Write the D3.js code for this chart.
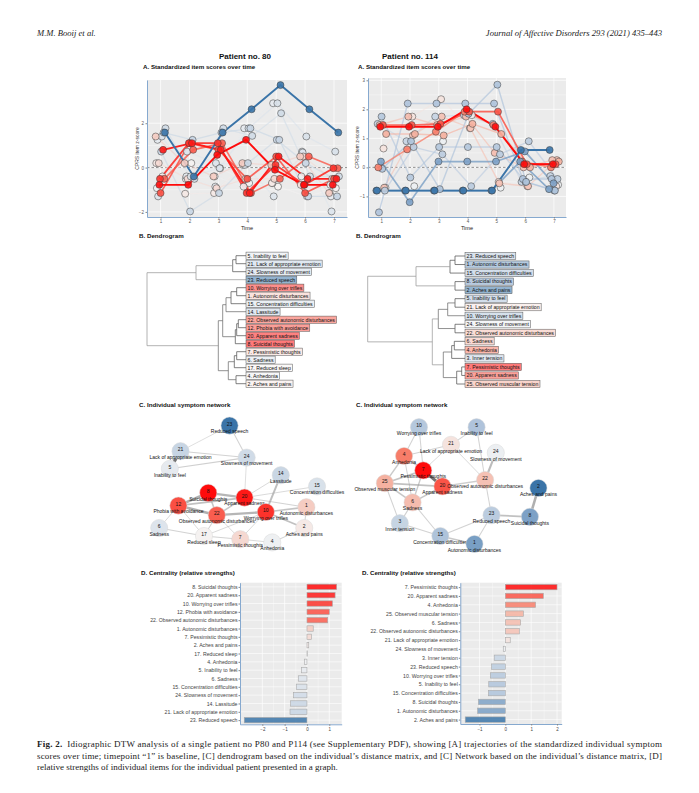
<!DOCTYPE html>
<html>
<head>
<meta charset="utf-8">
<script src="https://cdn.jsdelivr.net/npm/d3@7"></script>
<style>
  body { margin: 0; background: #fff; }
  svg { display: block; }
  text { font-family: "Liberation Sans", Arial, sans-serif; }
  .serif { font-family: "Liberation Serif", "Times New Roman", serif; }
</style>
</head>
<body>
<script>
// item names (CPRS)
var itemIds = [1, 2, 3, 4, 5, 6, 7, 8, 10, 12, 14, 15, 17, 20, 21, 22, 23, 24, 25];
var itemNames = ['Autonomic disturbances', 'Aches and pains', 'Inner tension', 'Anhedonia',
  'Inability to feel', 'Sadness', 'Pessimistic thoughts', 'Suicidal thoughts',
  'Worrying over trifles', 'Phobia with avoidance', 'Lassitude', 'Concentration difficulties',
  'Reduced sleep', 'Apparent sadness', 'Lack of appropriate emotion',
  'Observed autonomic disturbances', 'Reduced speech', 'Slowness of movement',
  'Observed muscular tension'];
var timepoints = [1, 2, 3, 4, 5, 6, 7];

// patient 80
var p80Items = [8, 20, 10, 12, 22, 1, 7, 2, 17, 4, 5, 6, 15, 24, 14, 21, 23];
var p80Strength = [1.33, 1.26, 1.14, 1.0, 0.93, 0.28, 0.2, 0.08, 0.02, -0.12, -0.25, -0.39, -0.48, -0.61, -0.73, -0.76, -2.81];
var p80Scores = [
  [-0.78, -0.78, 0.57, 1.25, -0.1, -0.78, -0.78],
  [0.8, 1.1, 0.8, -1.15, 0.5, -0.51, -0.51],
  [-0.51, 1.1, 1.1, -1.15, 0.12, -0.78, -0.03],
  [-1.15, 1.1, 0.8, -0.51, 0.5, -1.15, -0.51],
  [-0.51, 0.8, 1.1, -1.15, -0.51, 0.5, -0.03],
  [1.4, 0.2, -0.4, 0.2, 0.12, 0.5, -1.15],
  [0.2, -0.51, -0.93, -0.51, -0.51, 0.5, -0.51],
  [0.2, -1.18, -1.15, 0.12, -0.7, -0.78, -1.15],
  [-0.4, 0.2, -0.03, -0.7, -0.86, -1.3, -0.93],
  [-0.93, -0.51, -0.4, -0.86, -0.7, -0.4, -0.78],
  [1.25, -0.4, -0.86, 1.77, 2.9, 0.72, -1.3],
  [-1.3, 0.72, 0.2, 0.12, -1.3, 0.68, -1.98],
  [1.4, -0.4, -0.03, 1.77, 2.9, 1.4, 0.72],
  [1.77, -0.51, 1.77, 1.43, 2.45, -0.4, -0.4],
  [0.72, -1.98, -1.15, 0.2, 1.25, 0.2, -0.51],
  [1.58, 1.25, 1.58, 1.77, 1.25, -1.3, -1.3],
  [1.58, -0.4, 1.58, 2.63, 3.72, 2.63, 1.58]
];
// hclust style merge matrix: negative = item, positive = earlier merge row, then height
var p80Merge = [
  [-5, -21, 10], [1, -24, 13.3], [2, -23, 50], [-10, -1, 9.3], [4, -15, 15], [5, -14, 20],
  [-22, -12, 7.7], [7, -20, 9.3], [8, -8, 10.7], [6, 9, 23.3], [-7, -6, 9.3], [11, -17, 11.7],
  [-4, -2, 10], [12, 13, 17.7], [10, 14, 27.7], [3, 15, 99]
];
var p80LayoutX = [0.32, 0.49, 0.59, 0.18, 0.36, 0.78, 0.47, 0.77, 0.30, 0.62, 0.14, 0.09, 0.83, 0.50, 0.66, 0.19, 0.42];
var p80LayoutY = [0.42, 0.39, 0.30, 0.34, 0.28, 0.33, 0.13, 0.20, 0.15, 0.11, 0.57, 0.20, 0.46, 0.64, 0.53, 0.68, 0.84];
var p80Edges = [
  [21, 5, 1.0], [8, 12, 0.8], [8, 20, 0.7], [12, 22, 0.8], [12, 20, 0.5], [22, 10, 0.7],
  [20, 22, 0.4], [8, 22, 0.4], [14, 10, 0.55], [10, 1, 0.45], [10, 2, 0.5], [23, 24, 0.2],
  [23, 21, 0.12], [21, 24, 0.2], [5, 24, 0.25], [24, 20, 0.12], [20, 15, 0.15], [20, 1, 0.2],
  [6, 17, 0.2], [17, 7, 0.2], [7, 4, 0.15], [2, 4, 0.2], [17, 10, 0.15], [7, 10, 0.15],
  [17, 22, 0.2], [12, 17, 0.15], [6, 12, 0.15], [7, 22, 0.15], [2, 1, 0.2], [14, 20, 0.15]
];

// patient 114
var p114Items = [7, 20, 4, 25, 6, 22, 21, 24, 3, 23, 10, 5, 15, 8, 1, 2];
var p114Strength = [2.0, 1.47, 1.17, 0.7, 0.59, 0.54, 0.19, -0.08, -0.43, -0.53, -0.58, -0.64, -0.65, -1.04, -1.07, -1.55];
var p114Scores = [
  [1.4, 1.4, 1.4, 2.0, 1.4, 0.11, 0.11],
  [1.46, 1.46, 1.5, 1.92, 1.92, 0.11, 0.11],
  [0.0, 0.62, 1.23, 1.92, 1.46, 0.2, 0.0],
  [1.15, 1.15, 1.1, 1.5, 1.15, 0.0, 0.2],
  [1.46, 1.75, 1.46, 1.75, 0.5, 0.0, 0.25],
  [-0.7, 1.1, 1.75, 1.35, -0.55, -0.65, 0.25],
  [0.65, 1.75, 2.35, 1.35, -0.5, -0.65, -0.65],
  [-0.7, -0.65, 0.9, 1.8, -0.7, -0.35, -0.6],
  [1.5, 0.9, 1.75, 1.8, 1.5, -0.5, -0.3],
  [-0.8, 0.7, 0.45, -0.65, 0.45, 0.9, -0.4],
  [1.75, -0.35, 0.7, 0.7, 0.7, -0.5, -0.8],
  [-1.55, 2.2, 2.2, 2.2, 2.2, -0.4, -0.4],
  [-0.05, 0.9, -0.75, 1.85, 2.85, -0.5, -0.8],
  [0.2, -1.2, 0.2, 0.2, 0.2, 0.55, -0.55],
  [-0.8, -0.8, -0.8, -0.8, -0.8, 0.2, -0.75],
  [-0.8, -0.8, -0.8, -0.8, -0.8, 0.6, 0.6]
];
var p114Merge = [
  [-23, -1, 10], [1, -15, 15], [-8, -2, 10], [2, 3, 49], [-5, -21, 10], [5, -10, 17.3],
  [-24, -22, 10], [6, 7, 26.7], [-6, -4, 10.7], [9, -3, 13.3], [-7, -20, 3.3], [11, -25, 8.3],
  [10, 12, 21.7], [8, 13, 32.7], [4, 14, 97.3]
];
var p114LayoutX = [0.32, 0.41, 0.23, 0.14, 0.27, 0.61, 0.45, 0.66, 0.21, 0.64, 0.30, 0.57, 0.40, 0.82, 0.56, 0.86];
var p114LayoutY = [0.56, 0.46, 0.65, 0.48, 0.36, 0.50, 0.72, 0.67, 0.23, 0.28, 0.83, 0.83, 0.15, 0.27, 0.10, 0.45];
var p114Edges = [
  [7, 20, 1.0], [8, 2, 0.8], [24, 22, 0.6], [20, 25, 0.5], [7, 25, 0.45], [20, 6, 0.4],
  [7, 6, 0.35], [4, 7, 0.35], [4, 25, 0.35], [25, 6, 0.4], [23, 8, 0.5], [15, 1, 0.35],
  [22, 20, 0.3], [10, 4, 0.2], [10, 7, 0.2], [5, 21, 0.2], [5, 22, 0.2], [21, 4, 0.2],
  [21, 22, 0.15], [25, 3, 0.2], [6, 3, 0.25], [6, 15, 0.2], [3, 15, 0.2], [22, 23, 0.2],
  [23, 1, 0.2], [15, 23, 0.2], [4, 6, 0.2], [21, 7, 0.15]
];

var svg = d3.select(document.body).append('svg')
  .attr('width', 699).attr('height', 793);
svg.append('rect').attr('width', 699).attr('height', 793).attr('fill', '#fff');

var AXIS_BLUE = '#86a9cf';
var fmtInt = d3.format('d');

function nameOf(id) { return itemNames[itemIds.indexOf(id)]; }

function makePatient(items, strength, scores, merge, lx, ly, edges) {
  var lo = d3.min(strength), hi = d3.max(strength);
  var colour = d3.scaleLinear()
    .domain([lo, lo / 2, 0, hi / 2, hi])
    .range(['#3a74a8', '#a0b9d5', '#f5f5f5', '#f5947c', '#ff0b0b']);
  var weight = function(s) { return s >= 0 ? s / hi : s / lo; };
  return { items: items, strength: strength, scores: scores, merge: merge,
    lx: lx, ly: ly, edges: edges, colour: colour, weight: weight,
    strengthOf: function(id) { return strength[items.indexOf(id)]; } };
}

function title(txt, x, y, size) {
  svg.append('text').attr('x', x).attr('y', y).attr('font-size', size || 6.2)
    .attr('font-weight', 'bold').attr('fill', '#111').text(txt);
}

// A. trajectories
function drawScores(p, box) {
  var g = svg.append('g');
  var x = d3.scaleLinear().domain(box.xDomain).range([box.left, box.right]);
  var y = d3.scaleLinear().domain(box.yDomain).range([box.bottom, box.top]);
  g.append('rect').attr('x', box.left).attr('y', box.top)
    .attr('width', box.right - box.left).attr('height', box.bottom - box.top).attr('fill', '#ebebeb');
  var yMinor = box.yTicks.slice(0, -1).map(function(v, i) { return (v + box.yTicks[i + 1]) / 2; });
  g.selectAll(null).data(yMinor).enter().append('line')
    .attr('x1', box.left).attr('x2', box.right).attr('y1', y).attr('y2', y)
    .attr('stroke', '#fff').attr('stroke-width', 0.35);
  g.selectAll(null).data(box.yTicks).enter().append('line')
    .attr('x1', box.left).attr('x2', box.right).attr('y1', y).attr('y2', y)
    .attr('stroke', '#fff').attr('stroke-width', 0.7);
  g.selectAll(null).data(timepoints).enter().append('line')
    .attr('x1', x).attr('x2', x).attr('y1', box.top).attr('y2', box.bottom)
    .attr('stroke', '#fff').attr('stroke-width', 0.7);
  g.append('line').attr('x1', box.left).attr('x2', box.right).attr('y1', y(0)).attr('y2', y(0))
    .attr('stroke', '#777').attr('stroke-width', 0.8).attr('stroke-dasharray', '2.5,2');

  var dodge = d3.scalePoint().domain(p.items.slice().sort(d3.ascending)).range([-0.17, 0.17]);
  var order = d3.range(p.items.length).sort(function(a, b) {
    return p.weight(p.strength[a]) - p.weight(p.strength[b]);
  });
  var line = d3.line();
  var series = order.map(function(i) {
    return { s: p.strength[i], pts: p.scores[i].map(function(v, t) {
      return [x(timepoints[t] + dodge(p.items[i])), y(v)]; }) };
  });
  series.forEach(function(d) {
    var w = p.weight(d.s);
    g.append('path').attr('d', line(d.pts)).attr('fill', 'none')
      .attr('stroke', p.colour(d.s)).attr('stroke-width', 1.1 + 0.8 * w)
      .attr('stroke-opacity', 0.45 + 0.55 * w).attr('stroke-linejoin', 'round');
  });
  series.forEach(function(d) {
    g.selectAll(null).data(d.pts).enter().append('circle')
      .attr('cx', function(q) { return q[0]; }).attr('cy', function(q) { return q[1]; })
      .attr('r', 3.5).attr('fill', p.colour(d.s)).attr('fill-opacity', 0.9)
      .attr('stroke', '#3a3a3a').attr('stroke-width', 0.5);
  });

  var ax = g.append('g').attr('transform', 'translate(0,' + box.bottom + ')')
    .call(d3.axisBottom(x).tickValues(timepoints).tickFormat(fmtInt)
      .tickSize(1.5).tickSizeOuter(0).tickPadding(1.5));
  var ay = g.append('g').attr('transform', 'translate(' + box.left + ',0)')
    .call(d3.axisLeft(y).tickValues(box.yTicks).tickFormat(fmtInt)
      .tickSize(1.5).tickSizeOuter(0).tickPadding(1.5));
  [ax, ay].forEach(function(a) {
    a.select('.domain').attr('stroke', AXIS_BLUE).attr('stroke-width', 1);
    a.selectAll('.tick line').attr('stroke', '#888');
    a.selectAll('.tick text').attr('font-size', 4.5).attr('fill', '#555')
      .attr('font-family', '"Liberation Sans", Arial, sans-serif');
  });
  g.append('text').attr('x', (box.left + box.right) / 2).attr('y', box.bottom + 13)
    .attr('text-anchor', 'middle').attr('font-size', 5.6).attr('fill', '#222').text('Time');
  g.append('text').attr('transform', 'translate(' + box.ylabX + ',' + ((box.top + box.bottom) / 2) + ') rotate(-90)')
    .attr('text-anchor', 'middle').attr('font-size', 5).attr('fill', '#333').text('CPRS item z-score');
}

// B. dendrogram
function drawDendrogram(p, box) {
  var g = svg.append('g');
  var leaves = [];
  (function visit(ref) {
    if (ref < 0) { leaves.push(-ref); return; }
    visit(p.merge[ref - 1][0]); visit(p.merge[ref - 1][1]);
  })(p.merge.length);
  var yLeaf = d3.scalePoint().domain(leaves).range([box.top, box.bottom]);
  var hx = d3.scaleLinear().domain([0, 100]).range([box.leafX, box.leafX - 100]);
  function node(ref) {
    if (ref < 0) return { h: 0, y: yLeaf(-ref) };
    var m = p.merge[ref - 1];
    var a = node(m[0]), b = node(m[1]);
    g.append('path')
      .attr('d', 'M' + hx(a.h) + ',' + a.y + 'H' + hx(m[2]) + 'V' + b.y + 'H' + hx(b.h))
      .attr('fill', 'none').attr('stroke', m[2] > 30 ? '#999' : (m[2] > 16 ? '#6e6e6e' : '#555'))
      .attr('stroke-width', 0.75);
    return { h: m[2], y: (a.y + b.y) / 2 };
  }
  node(p.merge.length);
  leaves.forEach(function(id) {
    var s = p.strengthOf(id);
    var lg = g.append('g');
    var t = lg.append('text').attr('x', box.leafX + 1.6).attr('y', yLeaf(id)).attr('dy', '0.35em')
      .attr('font-size', 5.2).attr('fill', '#111').text(id + '. ' + nameOf(id));
    var w = t.node().getComputedTextLength();
    lg.insert('rect', 'text').attr('x', box.leafX).attr('y', yLeaf(id) - 3.6)
      .attr('width', w + 3.2).attr('height', 7.2)
      .attr('fill', p.colour(s)).attr('fill-opacity', 0.55)
      .attr('stroke', '#555').attr('stroke-width', 0.5);
  });
}

// C. network
function drawNetwork(p, box) {
  var g = svg.append('g');
  var x = d3.scaleLinear().domain([0, 1]).range([box.left, box.right]);
  var y = d3.scaleLinear().domain([1, 0]).range([box.top, box.bottom]);
  function pos(id) { var i = p.items.indexOf(id); return [x(p.lx[i]), y(p.ly[i])]; }
  g.selectAll(null).data(p.edges.slice().sort(function(a, b) { return a[2] - b[2]; }))
    .enter().append('line')
    .attr('x1', function(e) { return pos(e[0])[0]; }).attr('y1', function(e) { return pos(e[0])[1]; })
    .attr('x2', function(e) { return pos(e[1])[0]; }).attr('y2', function(e) { return pos(e[1])[1]; })
    .attr('stroke', function(e) { return e[2] > 0.9 ? '#6d6d6d' : '#a0a0a0'; })
    .attr('stroke-width', function(e) { return 0.5 + 2.6 * e[2]; })
    .attr('stroke-opacity', function(e) { return 0.35 + 0.6 * e[2]; });
  var nodes = g.selectAll(null).data(p.items).enter().append('g')
    .attr('transform', function(id) { return 'translate(' + pos(id) + ')'; });
  nodes.append('circle').attr('r', 8.6)
    .attr('fill', function(id) { return p.colour(p.strengthOf(id)); })
    .attr('stroke', '#d8d8d8').attr('stroke-width', 0.5);
  nodes.append('text').attr('y', -1.6).attr('dy', '0.35em').attr('text-anchor', 'middle')
    .attr('font-size', 5).attr('fill', '#111').text(function(id) { return id; });
  nodes.append('text').attr('y', 6).attr('dy', '0.35em').attr('text-anchor', 'middle')
    .attr('font-size', 5).attr('fill', '#111').text(function(id) { return nameOf(id); });
}

// D. centrality
function drawStrength(p, box) {
  var g = svg.append('g');
  var x = d3.scaleLinear().domain(box.xDomain).range([box.left, box.right]);
  var y = d3.scalePoint().domain(p.items).range([box.top, box.bottom]).padding(0.5);
  g.append('rect').attr('x', box.left).attr('y', box.top)
    .attr('width', box.right - box.left).attr('height', box.bottom - box.top).attr('fill', '#ebebeb');
  var minor = box.xTicks.slice(0, -1).map(function(v, i) { return (v + box.xTicks[i + 1]) / 2; });
  g.selectAll(null).data(minor).enter().append('line')
    .attr('x1', x).attr('x2', x).attr('y1', box.top).attr('y2', box.bottom)
    .attr('stroke', '#fff').attr('stroke-width', 0.35);
  g.selectAll(null).data(box.xTicks).enter().append('line')
    .attr('x1', x).attr('x2', x).attr('y1', box.top).attr('y2', box.bottom)
    .attr('stroke', '#fff').attr('stroke-width', 0.7);
  g.selectAll(null).data(p.items).enter().append('line')
    .attr('x1', box.left).attr('x2', box.right).attr('y1', y).attr('y2', y)
    .attr('stroke', '#fff').attr('stroke-width', 0.6);
  g.selectAll(null).data(p.items).enter().append('rect')
    .attr('x', function(id) { return x(Math.min(0, p.strengthOf(id))); })
    .attr('width', function(id) { return Math.abs(x(p.strengthOf(id)) - x(0)); })
    .attr('y', function(id) { return y(id) - 2.7; }).attr('height', 5.4)
    .attr('fill', function(id) { return p.colour(p.strengthOf(id)); }).attr('fill-opacity', 0.85)
    .attr('stroke', '#a9a9a9').attr('stroke-width', 0.6);
  var ax = g.append('g').attr('transform', 'translate(0,' + box.bottom + ')')
    .call(d3.axisBottom(x).tickValues(box.xTicks).tickFormat(fmtInt)
      .tickSize(1.5).tickSizeOuter(0).tickPadding(2));
  var ay = g.append('g').attr('transform', 'translate(' + box.left + ',0)')
    .call(d3.axisLeft(y).tickSize(1.5).tickSizeOuter(0)
      .tickFormat(function(id) { return id + '. ' + nameOf(id); }));
  [ax, ay].forEach(function(a) {
    a.select('.domain').attr('stroke', AXIS_BLUE).attr('stroke-width', 1);
    a.selectAll('.tick line').attr('stroke', '#888');
    a.selectAll('.tick text').attr('fill', '#444')
      .attr('font-family', '"Liberation Sans", Arial, sans-serif');
  });
  ax.selectAll('.tick text').attr('font-size', 4.5);
  ay.selectAll('.tick text').attr('font-size', 5.2).attr('x', -2.5);
}

var p80 = makePatient(p80Items, p80Strength, p80Scores, p80Merge, p80LayoutX, p80LayoutY, p80Edges);
var p114 = makePatient(p114Items, p114Strength, p114Scores, p114Merge, p114LayoutX, p114LayoutY, p114Edges);

// header
svg.append('text').attr('class', 'serif').attr('x', 37).attr('y', 36).attr('font-size', 8.6)
  .attr('font-style', 'italic').attr('fill', '#222').text('M.M. Booij et al.');
svg.append('text').attr('class', 'serif').attr('x', 662).attr('y', 36).attr('font-size', 8.6)
  .attr('font-style', 'italic').attr('text-anchor', 'end').attr('fill', '#222')
  .text('Journal of Affective Disorders 293 (2021) 435\u2013443');

svg.append('text').attr('x', 245).attr('y', 59).attr('text-anchor', 'middle').attr('font-size', 8)
  .attr('font-weight', 'bold').attr('fill', '#111').text('Patient no. 80');
svg.append('text').attr('x', 410).attr('y', 59).attr('text-anchor', 'middle').attr('font-size', 8)
  .attr('font-weight', 'bold').attr('fill', '#111').text('Patient no. 114');

title('A. Standardized item scores over time', 143, 69);
title('A. Standardized item scores over time', 358, 69);
drawScores(p80, { left: 147, right: 347, top: 80, bottom: 217, xDomain: [0.53, 7.45],
  yDomain: [-2.23, 3.95], yTicks: [-2, 0, 2], ylabX: 139 });
drawScores(p114, { left: 368, right: 566, top: 78, bottom: 217, xDomain: [0.54, 7.42],
  yDomain: [-1.71, 3.08], yTicks: [-1, 0, 1, 2, 3], ylabX: 359 });

title('B. Dendrogram', 139, 238);
title('B. Dendrogram', 356, 238);
drawDendrogram(p80, { leafX: 246, top: 255.7, bottom: 383.7 });
drawDendrogram(p114, { leafX: 465, top: 256, bottom: 384 });

title('C. Individual symptom network', 139, 407);
title('C. Individual symptom network', 356, 407);
drawNetwork(p80, { left: 140, right: 353.3, top: 400, bottom: 560 });
drawNetwork(p114, { left: 355, right: 568.3, top: 400, bottom: 560 });

title('D. Centrality (relative strengths)', 141, 575);
title('D. Centrality (relative strengths)', 362, 575);
drawStrength(p80, { left: 240, right: 341.7, top: 582.7, bottom: 724.3, xDomain: [-3.0, 1.556], xTicks: [-2, -1, 0, 1] });
drawStrength(p114, { left: 460.3, right: 561.7, top: 582.7, bottom: 724, xDomain: [-1.74, 2.18], xTicks: [-1, 0, 1, 2] });

// caption
var cap = svg.append('g').attr('font-size', 9).attr('fill', '#222');
var c1 = cap.append('text').attr('class', 'serif').attr('x', 37).attr('y', 747)
  .attr('textLength', 625).attr('lengthAdjust', 'spacing');
c1.append('tspan').attr('font-weight', 'bold').text('Fig. 2.');
c1.append('tspan').text('\u2002Idiographic DTW analysis of a single patient no P80 and P114 (see Supplementary PDF), showing [A] trajectories of the standardized individual symptom');
cap.append('text').attr('class', 'serif').attr('x', 37).attr('y', 758.5)
  .attr('textLength', 625).attr('lengthAdjust', 'spacing')
  .text('scores over time; timepoint \u201c1\u201d is baseline, [C] dendrogram based on the individual\u2019s distance matrix, and [C] Network based on the individual\u2019s distance matrix, [D]');
cap.append('text').attr('class', 'serif').attr('x', 37).attr('y', 770)
  .text('relative strengths of individual items for the individual patient presented in a graph.');
</script>
</body>
</html>
